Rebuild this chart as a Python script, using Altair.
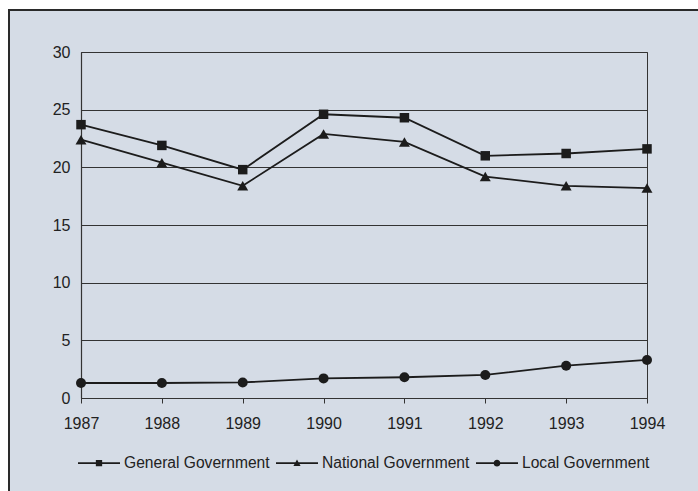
import altair as alt
import pandas as pd

# Series values by year
years = [1987, 1988, 1989, 1990, 1991, 1992, 1993, 1994]
general = [23.7, 21.9, 19.8, 24.6, 24.3, 21.0, 21.2, 21.6]
national = [22.4, 20.4, 18.4, 22.9, 22.2, 19.2, 18.4, 18.2]
local = [1.3, 1.3, 1.35, 1.7, 1.8, 2.0, 2.8, 3.3]

series_names = ["General Government", "National Government", "Local Government"]
marker_shapes = ["square", "triangle-up", "circle"]
marker_sizes = [90, 120, 100]
y_ticks = [0, 5, 10, 15, 20, 25, 30]

INK = "#1c1c1c"
PAPER = "#d5dce6"
FONT = "Liberation Sans"

rows = []
for name, vals in zip(series_names, [general, national, local]):
    for yr, v in zip(years, vals):
        rows.append({"year": yr, "value": v, "series": name})
df = pd.DataFrame(rows)

x_enc = alt.X("year:Q", scale=alt.Scale(domain=[years[0], years[-1]], nice=False),
              axis=alt.Axis(values=years, format="d", title=None, grid=False,
                            tickSize=5, labelPadding=12, labelFlush=False,
                            labelOverlap=False))
y_enc = alt.Y("value:Q", scale=alt.Scale(domain=[0, 30], nice=False),
              axis=alt.Axis(values=y_ticks, title=None, grid=True, tickSize=0,
                            labelPadding=11, labelFlush=False))

# Outer frame of the figure panel and the white margin around it
one = pd.DataFrame({"k": [0]})
margin_top = alt.Chart(one).mark_rect(color="white").encode(
    x=alt.value(-81), x2=alt.value(620), y=alt.value(-52), y2=alt.value(-42))
margin_left = alt.Chart(one).mark_rect(color="white").encode(
    x=alt.value(-81), x2=alt.value(-72), y=alt.value(-52), y2=alt.value(450))
frame = alt.Chart(one).mark_rect(fillOpacity=0, stroke="#2a2a2a", strokeWidth=2).encode(
    x=alt.value(-72), x2=alt.value(640), y=alt.value(-42), y2=alt.value(460))

lines = alt.Chart(df).mark_line(color=INK, strokeWidth=1.8).encode(
    x=x_enc, y=y_enc, detail="series:N")

# One marker layer per series, each with its own fixed shape
marker_layers = [
    alt.Chart(df).transform_filter(alt.datum.series == name).mark_point(
        filled=True, color=INK, opacity=1, shape=shape, size=size
    ).encode(x=x_enc, y=y_enc)
    for name, shape, size in zip(series_names, marker_shapes, marker_sizes)
]

# Legend keys: a thin filled bar (the line) with the series marker in its middle
key_paths = [
    "M-1,-0.042H1V0.042H-1ZM-0.15,-0.15H0.15V0.15H-0.15Z",
    "M-1,-0.042H1V0.042H-1ZM0,-0.18L0.17,0.13L-0.17,0.13Z",
    "M-1,-0.042H1V0.042H-1ZM0.16,0A0.16,0.16,0,1,1,-0.16,0A0.16,0.16,0,1,1,0.16,0Z",
]
legend_layer = alt.Chart(df).transform_filter("false").mark_point(
    filled=True, fill=INK, size=1764, opacity=1
).encode(
    shape=alt.Shape("series:N",
                    scale=alt.Scale(domain=series_names, range=key_paths),
                    legend=alt.Legend(title=None, orient="none", direction="horizontal",
                                      legendX=-4, legendY=389, padding=0,
                                      symbolSize=1764, symbolFillColor=INK,
                                      symbolOpacity=1, labelOffset=3, columnPadding=3,
                                      labelFont=FONT, labelFontSize=15.6, labelColor="#222")))

chart = alt.layer(margin_top, margin_left, frame, lines, *marker_layers, legend_layer).properties(
    width=566, height=346,
    autosize=alt.AutoSizeParams(type="none"),
    padding={"left": 81, "top": 52, "right": 51, "bottom": 93},
).configure(
    background=PAPER,
).configure_view(
    stroke="#333333", strokeWidth=1,
).configure_axis(
    labelFont=FONT, labelFontSize=16, labelColor="#222",
    domainColor="#333333", domainWidth=1.2, tickColor="#333333",
    gridColor="#333333", gridWidth=1, gridOpacity=1,
)

chart.save("out.html", embed_options={"renderer": "svg", "actions": False})
